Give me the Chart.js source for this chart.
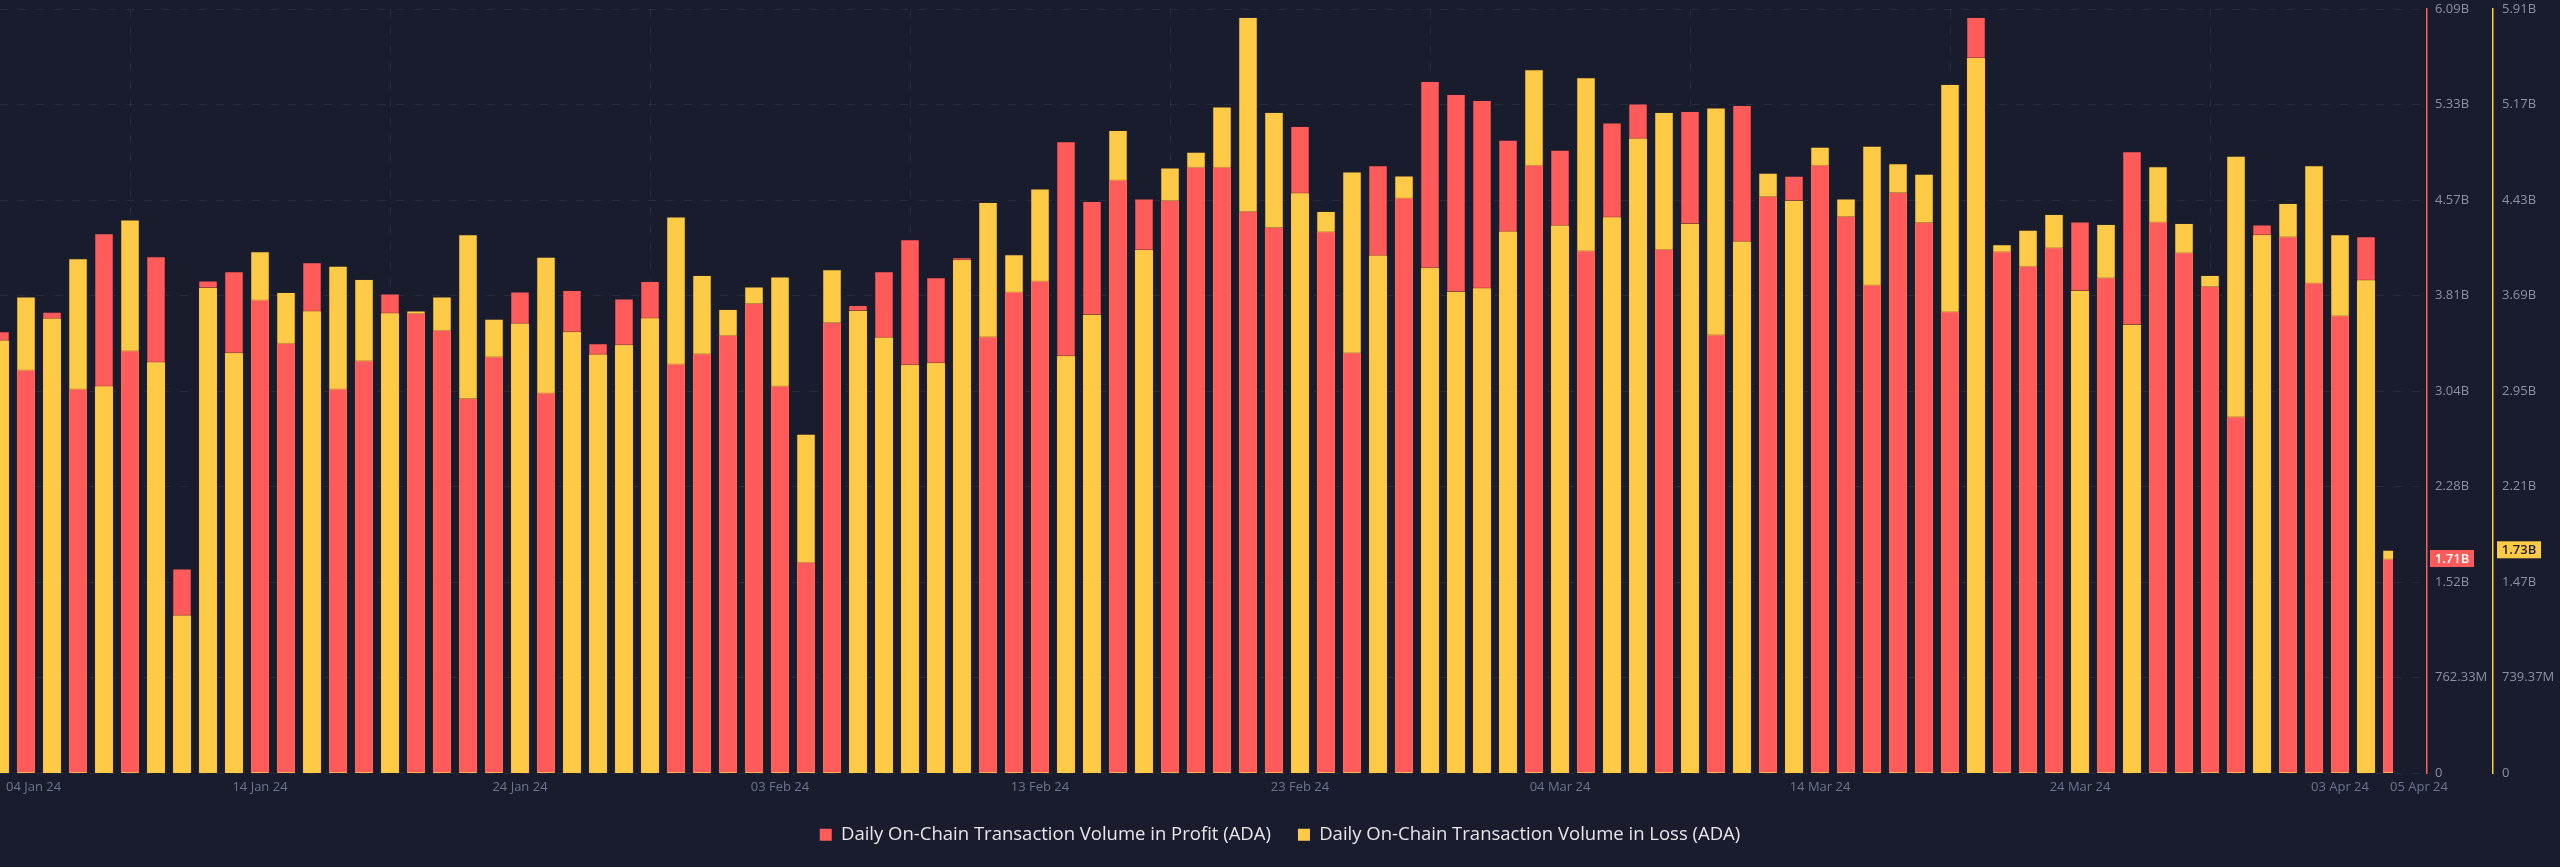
<!DOCTYPE html>
<html>
<head>
<meta charset="utf-8">
<script src="https://cdn.jsdelivr.net/npm/chart.js@4.4.1/dist/chart.umd.min.js"></script>
<style>
  html, body { margin: 0; padding: 0; background: #191c2d; overflow: hidden; }
  #wrap { width: 2560px; height: 867px; position: relative; }
  canvas { display: block; }
</style>
</head>
<body>
<div id="wrap"><canvas id="chart" width="2560" height="867"></canvas></div>
<script>
// ---------------- DATA ----------------
const dates = [
  '04 Jan 24','05 Jan 24','06 Jan 24','07 Jan 24','08 Jan 24','09 Jan 24','10 Jan 24','11 Jan 24','12 Jan 24','13 Jan 24',
  '14 Jan 24','15 Jan 24','16 Jan 24','17 Jan 24','18 Jan 24','19 Jan 24','20 Jan 24','21 Jan 24','22 Jan 24','23 Jan 24',
  '24 Jan 24','25 Jan 24','26 Jan 24','27 Jan 24','28 Jan 24','29 Jan 24','30 Jan 24','31 Jan 24','01 Feb 24','02 Feb 24',
  '03 Feb 24','04 Feb 24','05 Feb 24','06 Feb 24','07 Feb 24','08 Feb 24','09 Feb 24','10 Feb 24','11 Feb 24','12 Feb 24',
  '13 Feb 24','14 Feb 24','15 Feb 24','16 Feb 24','17 Feb 24','18 Feb 24','19 Feb 24','20 Feb 24','21 Feb 24','22 Feb 24',
  '23 Feb 24','24 Feb 24','25 Feb 24','26 Feb 24','27 Feb 24','28 Feb 24','29 Feb 24','01 Mar 24','02 Mar 24','03 Mar 24',
  '04 Mar 24','05 Mar 24','06 Mar 24','07 Mar 24','08 Mar 24','09 Mar 24','10 Mar 24','11 Mar 24','12 Mar 24','13 Mar 24',
  '14 Mar 24','15 Mar 24','16 Mar 24','17 Mar 24','18 Mar 24','19 Mar 24','20 Mar 24','21 Mar 24','22 Mar 24','23 Mar 24',
  '24 Mar 24','25 Mar 24','26 Mar 24','27 Mar 24','28 Mar 24','29 Mar 24','30 Mar 24','31 Mar 24','01 Apr 24','02 Apr 24',
  '03 Apr 24','04 Apr 24','05 Apr 24'
];

// Daily On-Chain Transaction Volume in Profit (ADA), in billions
const profitB = [
  3.526, 3.220, 3.681, 3.069, 4.308, 3.375, 4.125, 1.632, 3.931, 4.006,
  3.780, 3.434, 4.078, 3.069, 3.295, 3.827, 3.673, 3.538, 2.994, 3.327,
  3.843, 3.037, 3.855, 3.430, 3.788, 3.927, 3.268, 3.351, 3.498, 3.752,
  3.093, 1.687, 3.601, 3.736, 4.006, 4.260, 3.958, 4.117, 3.486, 3.843,
  3.931, 5.042, 4.566, 4.737, 4.586, 4.574, 4.840, 4.840, 4.487, 4.359,
  5.165, 4.324, 3.359, 4.852, 4.594, 5.523, 5.420, 5.372, 5.054, 4.856,
  4.975, 4.173, 5.193, 5.344, 4.185, 5.285, 3.502, 5.332, 4.606, 4.768,
  4.856, 4.447, 3.899, 4.637, 4.399, 3.685, 6.035, 4.165, 4.050, 4.197,
  4.403, 3.958, 4.963, 4.403, 4.157, 3.887, 2.847, 4.379, 4.284, 3.915,
  3.653, 4.284, 1.712
];

// Daily On-Chain Transaction Volume in Loss (ADA), in billions
const lossB = [
  3.354, 3.689, 3.524, 3.986, 3.000, 4.286, 3.185, 1.225, 3.762, 3.258,
  4.040, 3.724, 3.581, 3.928, 3.824, 3.566, 3.581, 3.689, 4.171, 3.516,
  3.485, 3.997, 3.420, 3.246, 3.319, 3.527, 4.309, 3.855, 3.593, 3.766,
  3.843, 2.626, 3.901, 3.585, 3.377, 3.165, 3.181, 3.978, 4.421, 4.017,
  4.525, 3.235, 3.554, 4.979, 4.055, 4.687, 4.810, 5.160, 5.853, 5.118,
  4.494, 4.352, 4.656, 4.013, 4.625, 3.916, 3.732, 3.759, 4.198, 5.449,
  4.244, 5.387, 4.309, 4.918, 5.118, 4.259, 5.153, 4.120, 4.648, 4.436,
  4.848, 4.448, 4.856, 4.721, 4.640, 5.334, 5.541, 4.094, 4.205, 4.328,
  3.739, 4.251, 3.477, 4.698, 4.259, 3.855, 4.779, 4.171, 4.413, 4.706,
  4.171, 3.820, 1.728
];

// x-axis tick labels shown
const tickLabels = ['04 Jan 24','14 Jan 24','24 Jan 24','03 Feb 24','13 Feb 24','23 Feb 24',
                    '04 Mar 24','14 Mar 24','24 Mar 24','03 Apr 24','05 Apr 24'];

// axis maxima (billions) and tick count
const profitAxisMaxB = 6.09864;
const lossAxisMaxB = 5.91496;
const yTickCount = 8;

const seriesNames = ['Daily On-Chain Transaction Volume in Profit (ADA)',
                     'Daily On-Chain Transaction Volume in Loss (ADA)'];

// ---------------- STYLE ----------------
const RED = '#ff5b5b';
const YELLOW = '#ffcb47';
const BG = '#191c2d';
const GRID = 'rgba(255,255,255,0.065)';
const FONT = "'Open Sans', 'Lato', sans-serif";
Chart.defaults.font.family = FONT;

// legend font size fitted to the reference label width
const mctx = document.createElement('canvas').getContext('2d');
mctx.font = "100px 'Open Sans'";
const legendFontSize = Math.round(100 * 431 / mctx.measureText(seriesNames[0]).width * 2) / 2;
const legendPadding = 27;
const layoutBottom = 13;
const legendHeight = legendFontSize + legendPadding + 10;
const plotBottom = 773;

// ---------------- DERIVED DATASETS ----------------
const E9 = 1e9;
const profitPts = profitB.map((v, i) => ({ x: i, y: v * E9 }));
const lossPts = lossB.map((v, i) => ({ x: i, y: v * E9 }));
// the shorter (in pixels) bar of each day is drawn in front
const profitFront = profitB.map((v, i) => ({ x: i, y: (v / profitAxisMaxB <= lossB[i] / lossAxisMaxB) ? v * E9 : null }));
const lossFront = lossB.map((v, i) => ({ x: i, y: (v / lossAxisMaxB < profitB[i] / profitAxisMaxB) ? v * E9 : null }));

function fmtTick(v) {
  if (v === 0) return '0';
  if (v >= 1e9) return (Math.floor(v / 1e9 * 100 + 1e-6) / 100).toFixed(2) + 'B';
  return (Math.floor(v / 1e6 * 100 + 1e-6) / 100).toFixed(2) + 'M';
}
function fmtValue(v) {
  if (v >= 1e9) return (v / 1e9).toFixed(2) + 'B';
  return (v / 1e6).toFixed(2) + 'M';
}
function buildYTicks(maxB) {
  const t = [];
  for (let i = 0; i <= yTickCount; i++) t.push({ value: maxB * E9 * i / yTickCount });
  return t;
}

const clipRight = { left: 0, top: 0, right: -34, bottom: 0 };
const barCommon = { grouped: false, barPercentage: 0.75, categoryPercentage: 1.0, borderWidth: 1,
                    borderSkipped: 'start', clip: clipRight };

// ---------------- PLUGINS ----------------
const bgPlugin = {
  id: 'bg',
  beforeDraw(chart) {
    const c = chart.ctx;
    c.save(); c.fillStyle = BG; c.fillRect(0, 0, chart.width, chart.height); c.restore();
  }
};

const xLabelsPlugin = {
  id: 'xLabels',
  afterDraw(chart) {
    const c = chart.ctx, xs = chart.scales.x;
    c.save();
    c.font = "13px " + FONT;
    c.fillStyle = '#6f7590';
    c.textBaseline = 'middle';
    tickLabels.forEach((lbl, j) => {
      const idx = dates.indexOf(lbl);
      let x = xs.getPixelForValue(idx);
      if (j === 0) { c.textAlign = 'left'; x = Math.max(x, 0) + 6; }
      else if (j === tickLabels.length - 1) { c.textAlign = 'left'; x = x - 2; }
      else c.textAlign = 'center';
      c.fillText(lbl, x, 787);
    });
    c.restore();
  }
};

const badgePlugin = {
  id: 'badges',
  afterDraw(chart) {
    const c = chart.ctx;
    const last = dates.length - 1;
    const items = [
      { scale: chart.scales.yProfit, v: profitB[last], bg: RED, fg: '#ffffff', dx: 3 },
      { scale: chart.scales.yLoss, v: lossB[last], bg: YELLOW, fg: '#191c2d', dx: 4 }
    ];
    c.save();
    c.font = "600 13px " + FONT;
    c.textAlign = 'center';
    c.textBaseline = 'middle';
    items.forEach(it => {
      const y = it.scale.getPixelForValue(it.v * E9);
      const x = it.scale.left + it.dx;
      c.fillStyle = it.bg;
      c.fillRect(x, y - 8.5, 44, 17);
      c.fillStyle = it.fg;
      c.fillText(fmtValue(it.v * E9), x + 22, y + 0.5);
    });
    c.restore();
  }
};

function noVerticalPadding(scale) {
  scale.paddingTop = 0;
  scale.paddingBottom = 0;
}

// ---------------- CHART ----------------
new Chart(document.getElementById('chart'), {
  type: 'bar',
  data: {
    datasets: [
      Object.assign({ label: seriesNames[0], data: profitPts, yAxisID: 'yProfit', order: 3,
        backgroundColor: RED, borderColor: 'rgba(60,30,40,0.35)' }, barCommon),
      Object.assign({ label: seriesNames[1], data: lossPts, yAxisID: 'yLoss', order: 2,
        backgroundColor: YELLOW, borderColor: 'rgba(70,55,30,0.35)' }, barCommon),
      Object.assign({ label: 'profit-front', data: profitFront, yAxisID: 'yProfit', order: 1,
        backgroundColor: RED, borderColor: 'rgba(60,30,40,0.35)' }, barCommon),
      Object.assign({ label: 'loss-front', data: lossFront, yAxisID: 'yLoss', order: 1,
        backgroundColor: YELLOW, borderColor: 'rgba(70,55,30,0.35)' }, barCommon)
    ]
  },
  options: {
    responsive: false,
    animation: false,
    devicePixelRatio: 1,
    layout: { padding: { top: 9, right: 0, bottom: layoutBottom, left: 0 } },
    plugins: {
      tooltip: { enabled: false },
      legend: {
        display: true,
        position: 'bottom',
        labels: {
          color: '#e6e7ec',
          font: { family: FONT, size: legendFontSize },
          boxWidth: 12,
          boxHeight: 12,
          padding: legendPadding,
          filter: (item) => item.datasetIndex < 2,
          generateLabels: (chart) => chart.data.datasets.map((ds, i) => ({
            text: ds.label, fillStyle: ds.backgroundColor, strokeStyle: ds.backgroundColor,
            lineWidth: 0, hidden: false, datasetIndex: i, fontColor: '#e6e7ec'
          }))
        }
      }
    },
    scales: {
      x: {
        type: 'linear',
        min: 0,
        max: 2427 / 26,
        offset: false,
        ticks: { display: false },
        grid: { display: true, color: GRID, drawTicks: false, lineWidth: 1 },
        border: { display: false, dash: [8, 10] },
        afterBuildTicks: (scale) => {
          scale.ticks = tickLabels.slice(0, -1).map(l => ({ value: dates.indexOf(l) }));
        },
        afterFit: (scale) => { scale.height = 867 - layoutBottom - legendHeight - plotBottom; }
      },
      yProfit: {
        type: 'linear',
        position: 'right',
        weight: 1,
        min: 0,
        max: profitAxisMaxB * E9,
        afterBuildTicks: (scale) => { scale.ticks = buildYTicks(profitAxisMaxB); },
        ticks: { color: '#8b90a3', font: { family: FONT, size: 13 }, padding: 8, callback: (v) => fmtTick(v) },
        grid: { display: true, color: GRID, drawTicks: false, lineWidth: 1 },
        border: { display: true, color: RED, width: 1.5, dash: [8, 10] },
        afterFit: (scale) => { scale.width = 66; noVerticalPadding(scale); }
      },
      yLoss: {
        type: 'linear',
        position: 'right',
        weight: 2,
        min: 0,
        max: lossAxisMaxB * E9,
        afterBuildTicks: (scale) => { scale.ticks = buildYTicks(lossAxisMaxB); },
        ticks: { color: '#8b90a3', font: { family: FONT, size: 13 }, padding: 9, callback: (v) => fmtTick(v) },
        grid: { display: false, drawOnChartArea: false, drawTicks: false },
        border: { display: true, color: YELLOW, width: 1.5 },
        afterFit: (scale) => { scale.width = 67; noVerticalPadding(scale); }
      }
    }
  },
  plugins: [bgPlugin, xLabelsPlugin, badgePlugin]
});
</script>
</body>
</html>
